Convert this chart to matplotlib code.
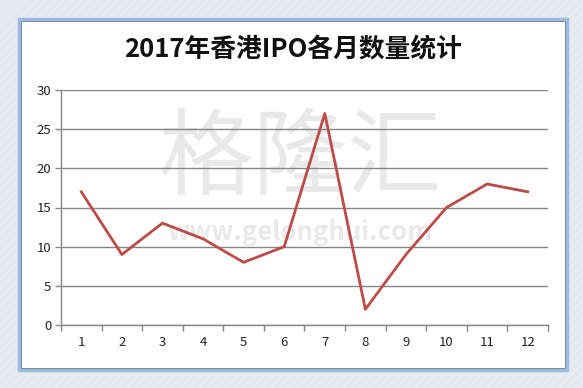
import matplotlib
matplotlib.use('Agg')
import matplotlib.pyplot as plt
from matplotlib.patches import Rectangle

plt.rcParams['font.family'] = ['Noto Sans CJK SC', 'DejaVu Sans']

months = [1, 2, 3, 4, 5, 6, 7, 8, 9, 10, 11, 12]
ipo_counts = [17, 9, 13, 11, 8, 10, 27, 2, 9, 15, 18, 17]
y_ticks = [0, 5, 10, 15, 20, 25, 30]
title = '2017年香港IPO各月数量统计'

W, H = 583, 388
fig = plt.figure(figsize=(W / 100, H / 100), dpi=100)
fig.patch.set_facecolor('#e6eaee')

# faint diagonal stripes in the background
for k in range(-40, 100):
    x0 = k * 9
    fig.add_artist(plt.Line2D([x0 / W, (x0 + H) / W], [0, 1], transform=fig.transFigure,
                              color='white', lw=0.8, alpha=0.3, zorder=0))

# chart frame
fx0, fy0, fx1, fy1 = 19, 19, 567, 370
fig.add_artist(Rectangle((fx0 / W, 1 - fy1 / H), (fx1 - fx0) / W, (fy1 - fy0) / H,
                         transform=fig.transFigure, facecolor='white',
                         edgecolor='#9bbbe0', lw=2.5, zorder=1))
fig.add_artist(Rectangle(((fx0 + 2) / W, 1 - (fy1 - 2) / H), (fx1 - fx0 - 4) / W, (fy1 - fy0 - 4) / H,
                         transform=fig.transFigure, facecolor='none',
                         edgecolor='#7a8794', lw=0.7, zorder=1))

ax = fig.add_axes([61 / W, 1 - 325 / H, (548 - 61) / W, (325 - 90) / H])
ax.set_facecolor('none')
ax.set_zorder(3)

# watermark
fig.text(300 / W, 1 - 160 / H, '格隆汇', fontsize=68, fontweight='light', color='#d4d4d4',
         alpha=0.5, ha='center', va='center', zorder=2)
fig.text(300 / W, 1 - 232 / H, 'www.gelonghui.com', fontsize=18.5, fontweight='bold',
         color='#d4d4d4', alpha=0.5, ha='center', va='center', zorder=2)

ax.plot(months, ipo_counts, color='#be4b48', lw=2.0, zorder=4)

ax.set_xlim(0.5, 12.5)
ax.set_ylim(0, 30)
ax.set_yticks(y_ticks)
ax.set_xticks(months)
ax.set_xticks([m - 0.5 for m in months] + [12.5], minor=True)
ax.tick_params(axis='x', which='major', length=0, pad=8, labelsize=9.5, colors='#222222')
ax.tick_params(axis='x', which='minor', length=4, color='#868686', width=1)
ax.tick_params(axis='y', length=4, color='#868686', width=1, labelsize=9.5, colors='#222222', pad=3)
ax.grid(axis='y', color='#868686', lw=1)
for s in ['top', 'right']:
    ax.spines[s].set_visible(False)
for s in ['left', 'bottom']:
    ax.spines[s].set_color('#868686')
    ax.spines[s].set_linewidth(1)

fig.text(293 / W, 1 - 50 / H, title, fontsize=18.5, fontweight='bold',
         ha='center', va='center', color='#111111', zorder=3)

fig.savefig('out.png', dpi=100, facecolor=fig.get_facecolor())
